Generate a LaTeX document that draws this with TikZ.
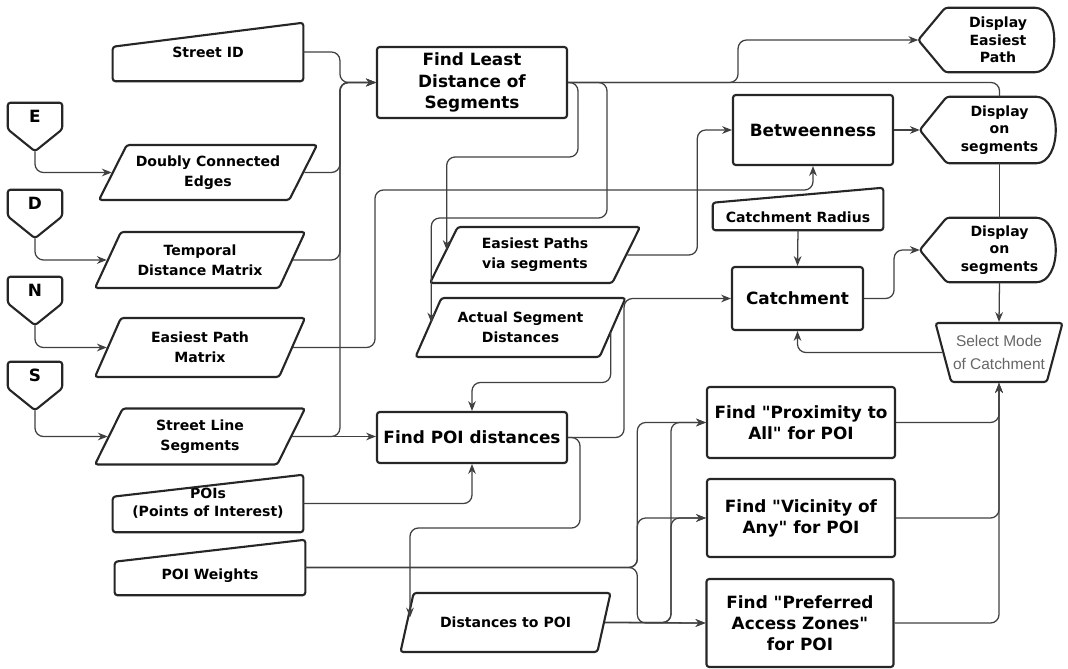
\documentclass[tikz,border=0pt]{standalone}
\usepackage{fontspec}
\setmainfont{DejaVu Sans}
\newfontfamily\modefont{Liberation Sans}
\usetikzlibrary{shapes.geometric,arrows.meta,calc}
\newcommand{\lowtext}[1]{\raisebox{-6pt}[\height][\depth]{#1}}
\newcommand{\qq}{\textquotedbl}

\begin{document}
\begin{tikzpicture}[x=0.025cm, y=-0.025cm,
  every node/.style={align=center},
  box/.style={draw=black!85, line width=1.5pt, rounded corners=2pt},
  proc/.style={box, font=\bfseries\fontsize{12}{15}\selectfont},
  data/.style={box, trapezium, trapezium left angle=57, trapezium right angle=123,
    trapezium stretches body, minimum width=5.25cm, minimum height=1.4cm,
    font=\bfseries\fontsize{10}{14}\selectfont},
  minput/.style={font=\bfseries\fontsize{10}{13}\selectfont},
  disp/.style={minimum width=2.625cm, inner sep=0pt, font=\bfseries\fontsize{10}{12.5}\selectfont},
  offpage/.style={minimum width=1.35cm, minimum height=0.65cm, inner sep=0pt,
    font=\bfseries\fontsize{12}{14}\selectfont},
  conn/.style={draw=black!75, line width=0.9pt, rounded corners=6pt, -{Stealth[length=7pt,width=5.5pt]}},
  link/.style={draw=black!75, line width=0.9pt, rounded corners=6pt}
]
  \useasboundingbox (0,0) rectangle (1068,669);

  % sources on the left
  \foreach \n/\y in {E/116,D/203,N/290,S/375}
    \node[offpage] (off\n) at (35,\y) {\n};
  \node[minput, minimum width=4.75cm, minimum height=1.45cm] (sid) at (208,52) {Street ID};
  \node[data, minimum width=5.45cm, minimum height=1.375cm] (dce) at (208,172.5) {Doubly Connected\\Edges};
  \node[data] (tdm) at (200,260) {Temporal\\Distance Matrix};
  \node[data, minimum height=1.475cm] (epm) at (200,347.5) {Easiest Path\\Matrix};
  \node[data] (sls) at (200,436.5) {Street Line\\Segments};
  \node[minput, minimum width=4.75cm, minimum height=1.425cm] (pois) at (208,503.5) {POIs\\(Points of Interest)};
  \node[minput, minimum width=4.75cm, minimum height=1.375cm] (pw) at (210,567.5) {\lowtext{POI Weights}};

  % middle column
  \node[proc, minimum width=4.75cm, minimum height=1.775cm] (fl) at (472,82.5) {Find Least\\Distance of\\Segments};
  \node[data] (eps) at (535,255) {Easiest Paths\\via segments};
  \node[data, minimum height=1.475cm] (asd) at (520.5,327.5) {Actual Segment\\Distances};
  \node[proc, minimum width=4.75cm, minimum height=1.275cm] (fp) at (472,437.5) {Find POI distances};
  \node[data, minimum height=1.475cm] (dtp) at (505.5,622.5) {Distances to POI};

  % right column
  \node[proc, minimum width=4cm, minimum height=1.75cm] (btw) at (813,130) {Betweenness};
  \node[minput, minimum width=4.25cm, minimum height=1.05cm] (crad) at (798,209) {\lowtext{Catchment Radius}};
  \node[proc, minimum width=3.275cm, minimum height=1.575cm] (cat) at (797.5,298.5) {Catchment};
  \node[proc, minimum width=4.7cm, minimum height=1.775cm] (prox) at (801,422.5) {Find \qq Proximity to\\All\qq{} for POI};
  \node[proc, minimum width=4.7cm, minimum height=1.95cm] (vic) at (801,518) {Find \qq Vicinity of\\Any\qq{} for POI};
  \node[proc, minimum width=4.675cm, minimum height=2.2cm] (pref) at (800,623) {Find \qq Preferred\\Access Zones\qq\\for POI};
  \node[disp, minimum height=1.6cm] (de) at (998,40) {Display\\Easiest\\Path};
  \node[disp, minimum height=1.65cm] (d1) at (999.5,130) {Display\\on\\segments};
  \node[disp, minimum height=1.6cm] (d2) at (999.5,250) {Display\\on\\segments};
  \node[box, trapezium, trapezium left angle=110, trapezium right angle=110, trapezium stretches body,
    minimum width=3.175cm, minimum height=1.475cm, inner xsep=0pt,
    font=\modefont\fontsize{11}{16}\selectfont, text=black!60] (sm) at (999,352.5) {Select Mode\\of Catchment};

  % outlines of the drawn shapes
  \foreach \n in {E,D,N,S}
    \draw[box] (off\n.north west) -- (off\n.north east) -- (off\n.south east)
      -- ([shift={(0,22)}]off\n.south) coordinate (tip\n) -- (off\n.south west) -- cycle;
  \foreach \n/\d in {sid/24,pois/22,pw/22,crad/15}
    \draw[box] (\n.south west) -- (\n.south east) -- (\n.north east)
      -- ([shift={(0,\d)}]\n.north west) -- cycle;
  \foreach \n in {de,d1,d2}
    \draw[box] ([shift={(-27,0)}]\n.west) coordinate (pt\n) -- (\n.north west)
      -- ([shift={(-19,0)}]\n.north east)
      .. controls ([shift={(10,0)}]\n.north east) and ([shift={(10,0)}]\n.south east)
      .. ([shift={(-19,0)}]\n.south east) -- (\n.south west) -- cycle;

  % connectors
  \foreach \n/\t in {E/dce,D/tdm,N/epm,S/sls}
    \draw[conn] (tip\n) |- (\t.west);
  \coordinate (bus) at ([shift={(-36,0)}]fl.west);
  \foreach \s in {sid,dce,tdm,sls}
    \draw[conn] (\s.east) -| (bus) -- (fl.west);
  \draw[conn] (sls.east) -- (sls.east -| fp.west);
  \draw[conn] (epm.east) -| (375,190) -| (btw.south);
  \draw[conn] (fl.east) -- ++(170,0) |- (ptde);
  \draw[link] (fl.east) -| (d1.north);
  \draw[link] (d1.south) -- (d2.north);
  \draw[conn] (d2.south) -- (sm.north);
  \draw[conn] (fl.east) -| (578,157) -| ([shift={(4,-5)}]eps.west);
  \draw[conn] (fl.east) -| (607,218) -| ([shift={(4,-5)}]asd.west);
  \draw[conn] (eps.east) -- ++(70,0) |- (btw.west);
  \draw[conn] (btw.east) -- (ptd1);
  \draw[conn] (crad.south) -- (cat.north);
  \draw[conn] (fp.east) -- ++(56,0) |- (cat.west);
  \draw[conn] (cat.east) -- ++(30,0) |- (ptd2);
  \draw[conn] (sm.west) -| (cat.south);
  \draw[conn] ([shift={(-3,5)}]asd.east) -- ++(0,50) -| (fp.north);
  \draw[conn] (pois.east) -| (fp.south);
  \draw[conn] (fp.east) -| (580,528) -| ([shift={(4,-5)}]dtp.west);
  \foreach \t in {prox,vic,pref}
    \draw[conn] (pw.east) -- ++(332,0) |- (\t.west);
  \foreach \t in {prox,vic}
    \draw[conn] (dtp.east) -- ++(66,0) |- (\t.west);
  \draw[conn] (dtp.east) -- (pref.west);
  \foreach \s in {prox,vic,pref}
    \draw[conn] (\s.east) -| (sm.south);
\end{tikzpicture}
\end{document}
